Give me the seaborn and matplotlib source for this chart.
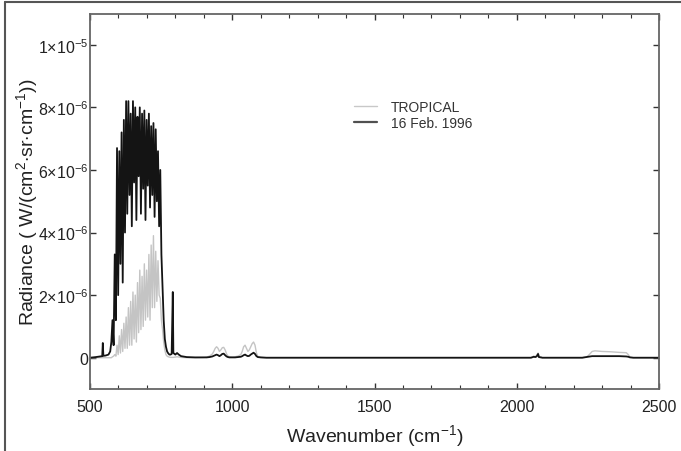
import numpy as np
import pandas as pd
import matplotlib
matplotlib.use("Agg")
import matplotlib.pyplot as plt
from matplotlib.lines import Line2D
from matplotlib.ticker import MultipleLocator, FixedLocator
import seaborn as sns

# ---------------- data (radiance in units of 1e-6 W/(cm2 sr cm-1)) ----------------
series_names = ["TROPICAL", "16 Feb. 1996"]

# low wavenumber baseline before the CO2 band
wn_pre = [500, 520, 535, 543, 545, 547, 555, 565, 568]
trop_pre = [0.0, 0.0, 0.0, 0.0, 0.0, 0.0, 0.0, 0.0, 0.0]
feb_pre = [0.0, 0.02, 0.04, 0.05, 0.47, 0.06, 0.07, 0.10, 0.15]

# the 15 um band, sampled every 4 cm-1 from 571 to 787
wn_band = list(range(571, 791, 4))
trop_band = [0.0, 0.0, 0.03, 0.05, 0.1, 0.05, 0.4, 0.1, 0.7, 0.15,
             0.9, 0.2, 1.1, 0.3, 1.3, 0.3, 1.6, 0.4, 1.8, 0.4,
             2.1, 0.6, 2.0, 0.5, 2.4, 0.8, 2.8, 0.9, 2.6, 1.0,
             3.0, 1.2, 2.8, 1.3, 3.3, 1.2, 3.6, 1.6, 3.9, 1.6,
             3.4, 1.8, 3.1, 2.0, 1.9, 1.2, 0.9, 0.5, 0.25, 0.1,
             0.05, 0.03, 0.02, 0.01, 0.01]
feb_band = [0.2, 0.5, 1.2, 0.4, 3.3, 1.2, 6.7, 2.0, 6.6, 3.0,
            7.2, 2.4, 7.6, 4.0, 8.2, 4.6, 8.2, 5.2, 7.8, 4.2,
            8.2, 5.6, 8.0, 4.4, 7.7, 5.8, 8.0, 4.6, 7.8, 5.4,
            7.9, 4.4, 7.6, 5.5, 7.8, 4.8, 7.4, 5.2, 7.5, 4.5,
            7.3, 5.0, 6.6, 4.2, 6.0, 3.3, 2.2, 1.2, 0.6, 0.35,
            0.2, 0.14, 0.1, 0.1, 0.12]

# spike and window region
wn_win = [791, 793, 800, 806, 812, 820, 840, 870, 900, 910, 920, 930, 935, 940,
          945, 950, 955, 960, 965, 970, 975, 980, 985, 990, 1000, 1010, 1020,
          1030, 1035, 1040, 1045, 1050, 1055, 1060, 1065, 1070, 1075, 1080,
          1085, 1090, 1100, 1120, 1200, 1400, 1600, 1800, 2000, 2050]
trop_win = [0.01, 0.01, 0.02, 0.03, 0.02, 0.01, 0.0, 0.0, 0.01, 0.02, 0.05,
            0.12, 0.2, 0.3, 0.35, 0.3, 0.2, 0.25, 0.32, 0.33, 0.25, 0.12,
            0.05, 0.03, 0.02, 0.03, 0.05, 0.1, 0.2, 0.35, 0.4, 0.3, 0.2, 0.25,
            0.35, 0.45, 0.5, 0.4, 0.15, 0.04, 0.01, 0.0, 0.0, 0.0, 0.0, 0.0,
            0.0, 0.0]
feb_win = [2.1, 0.15, 0.1, 0.15, 0.1, 0.05, 0.02, 0.01, 0.01, 0.01, 0.02,
           0.04, 0.06, 0.08, 0.1, 0.08, 0.05, 0.08, 0.12, 0.13, 0.08, 0.04,
           0.02, 0.01, 0.01, 0.01, 0.02, 0.03, 0.05, 0.08, 0.1, 0.07, 0.05,
           0.06, 0.1, 0.13, 0.16, 0.12, 0.05, 0.02, 0.01, 0.0, 0.0, 0.0, 0.0,
           0.0, 0.0, 0.0]

# 4.3 / 4.7 um region
wn_hi = [2060, 2065, 2070, 2075, 2078, 2085, 2090, 2200, 2230, 2245, 2255,
         2265, 2275, 2300, 2330, 2360, 2385, 2392, 2398, 2410, 2450, 2500]
trop_hi = [0.05, 0.03, 0.08, 0.15, 0.02, 0.03, 0.0, 0.0, 0.0, 0.02, 0.1,
           0.2, 0.22, 0.2, 0.19, 0.17, 0.16, 0.1, 0.02, 0.0, 0.0, 0.0]
feb_hi = [0.03, 0.02, 0.04, 0.12, 0.02, 0.01, 0.0, 0.0, 0.0, 0.02, 0.03,
          0.05, 0.05, 0.05, 0.05, 0.05, 0.04, 0.03, 0.01, 0.0, 0.0, 0.0]

wavenumber = wn_pre + wn_band + wn_win + wn_hi
tropical = trop_pre + trop_band + trop_win + trop_hi
feb1996 = feb_pre + feb_band + feb_win + feb_hi

ytick_vals = [0, 2e-6, 4e-6, 6e-6, 8e-6, 1e-5]
ytick_labels = ["0",
                r"$\mathregular{2{\times}10^{-6}}$",
                r"$\mathregular{4{\times}10^{-6}}$",
                r"$\mathregular{6{\times}10^{-6}}$",
                r"$\mathregular{8{\times}10^{-6}}$",
                r"$\mathregular{1{\times}10^{-5}}$"]
xtick_vals = [500, 1000, 1500, 2000, 2500]

df = pd.DataFrame({
    "wn": wavenumber * 2,
    "rad": [v * 1e-6 for v in tropical] + [v * 1e-6 for v in feb1996],
    "series": [series_names[0]] * len(wavenumber) + [series_names[1]] * len(wavenumber),
})

# ---------------- style ----------------
sns.set_theme(style="ticks")
plt.rcParams["font.family"] = ["Liberation Sans", "DejaVu Sans"]
plt.rcParams["mathtext.fontset"] = "custom"
plt.rcParams["mathtext.rm"] = "Liberation Sans"
plt.rcParams["mathtext.it"] = "Liberation Sans:italic"
plt.rcParams["mathtext.bf"] = "Liberation Sans:bold"

fig = plt.figure(figsize=(6.81, 4.52), dpi=100)
fig.patch.set_facecolor("white")
ax = fig.add_axes([90 / 681, 62 / 452, 569 / 681, 375.5 / 452])

sns.lineplot(data=df[df.series == series_names[0]], x="wn", y="rad",
             color="#c4c4c4", lw=1.0, estimator=None, ax=ax,
             label=series_names[0])
sns.lineplot(data=df[df.series == series_names[1]], x="wn", y="rad",
             color="#141414", lw=1.3, estimator=None, ax=ax,
             label=series_names[1])

ax.set_xlim(500, 2500)
ax.set_ylim(-1e-6, 1.1e-5)

ax.xaxis.set_major_locator(FixedLocator(xtick_vals))
ax.xaxis.set_minor_locator(MultipleLocator(100))
ax.set_xticks(xtick_vals)
ax.set_xticklabels([str(v) for v in xtick_vals])
ax.set_yticks(ytick_vals)
ax.set_yticklabels(ytick_labels)

ax.tick_params(axis="x", which="both", direction="in", top=True, bottom=True,
               labelsize=11.5, pad=7, color="#333333", labelcolor="#222222")
ax.tick_params(axis="x", which="major", length=4, width=1)
ax.tick_params(axis="x", which="minor", length=3, width=0.8)
ax.tick_params(axis="y", which="major", direction="in", left=True, right=True,
               length=4, width=1, labelsize=11.5, pad=1, color="#333333",
               labelcolor="#222222")

for sp in ax.spines.values():
    sp.set_visible(True)
    sp.set_color("#666666")
    sp.set_linewidth(1.3)

ax.set_xlabel(r"Wavenumber (cm$^{\mathregular{-1}}$)", fontsize=14, color="#222222",
              va="top")
ax.xaxis.set_label_coords(0.5, -0.088)
ax.set_ylabel(r"Radiance ( W/(cm$^{\mathregular{2}}$$\cdot$sr$\cdot$cm$^{\mathregular{-1}}$))",
              fontsize=14, color="#222222")
ax.yaxis.set_label_coords(-0.088, 0.5)

leg = ax.legend(loc="upper left", bbox_to_anchor=(0.455, 0.785), frameon=False,
                fontsize=10, handlelength=1.6, handletextpad=1.0,
                labelspacing=0.15, borderaxespad=0)
for t in leg.get_texts():
    t.set_color("#333333")
leg_lines = leg.get_lines()
leg_lines[0].set_color("#c8c8c8")
leg_lines[0].set_linewidth(1.0)
leg_lines[1].set_color("#505050")
leg_lines[1].set_linewidth(1.6)

# outer figure frame (top and left edges)
fig.add_artist(Line2D([5 / 681, 5 / 681], [0, 1 - 2.5 / 452], transform=fig.transFigure,
                      color="#555555", lw=1.5))
fig.add_artist(Line2D([5 / 681, 1], [1 - 2.5 / 452, 1 - 2.5 / 452], transform=fig.transFigure,
                      color="#555555", lw=1.5))

fig.savefig("out.png", dpi=100)
